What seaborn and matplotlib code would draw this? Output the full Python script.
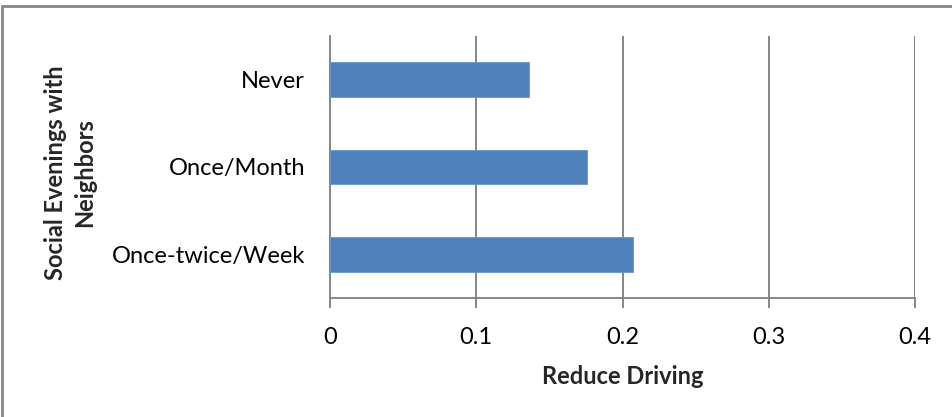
import matplotlib
matplotlib.use("Agg")
import matplotlib.pyplot as plt
import seaborn as sns
import pandas as pd
from matplotlib.lines import Line2D

categories = ["Never", "Once/Month", "Once-twice/Week"]
reduce_driving = [0.136, 0.176, 0.207]
x_ticks = [0, 0.1, 0.2, 0.3, 0.4]
x_tick_labels = ["0", "0.1", "0.2", "0.3", "0.4"]

sns.set_theme(style="white")
plt.rcParams["font.family"] = ["Lato", "DejaVu Sans"]

df = pd.DataFrame({"category": categories, "value": reduce_driving})

W, H = 953, 417
fig = plt.figure(figsize=(W / 100, H / 100), dpi=100)
ax = fig.add_axes([330 / W, (H - 298) / H, (915 - 330) / W, (298 - 36) / H])

grey = "#868686"
sns.barplot(data=df, x="value", y="category", orient="h", color="#4F81BD",
            width=0.4, saturation=1, edgecolor="#6a96cc", linewidth=0.6,
            ax=ax, zorder=3)

ax.set_xlim(0, 0.4)
ax.set_ylim(2.5, -0.5)
ax.set_xticks(x_ticks)
ax.set_xticklabels(x_tick_labels)
ax.xaxis.grid(True, color=grey, linewidth=1.4, zorder=0)
ax.yaxis.grid(False)
ax.set_axisbelow(True)

for side in ["top", "right"]:
    ax.spines[side].set_visible(False)
for side in ["left", "bottom"]:
    ax.spines[side].set_color(grey)
    ax.spines[side].set_linewidth(1.4)

ax.tick_params(axis="x", which="major", direction="out", length=7, width=1.4,
               color=grey, labelsize=17, pad=14, bottom=True)
ax.tick_params(axis="y", which="major", length=0, labelsize=17, pad=18)
for lbl in ax.get_xticklabels() + ax.get_yticklabels():
    lbl.set_color("black")

ax.set_xlabel("Reduce Driving", fontsize=17, fontweight="bold", labelpad=12)
ax.set_ylabel("")
fig.text(70 / W, 1 - 173 / H, "Social Evenings with\nNeighbors", rotation=90,
         ha="center", va="center", multialignment="center", fontsize=17,
         fontweight="bold", linespacing=1.35)

# chart frame
fig.add_artist(Line2D([2 / W, 1], [1 - 6 / H, 1 - 6 / H], color=grey, lw=2,
                      transform=fig.transFigure))
fig.add_artist(Line2D([2 / W, 2 / W], [0, 1 - 6 / H], color=grey, lw=2,
                      transform=fig.transFigure))

fig.savefig("out.png", dpi=100, facecolor="white")
